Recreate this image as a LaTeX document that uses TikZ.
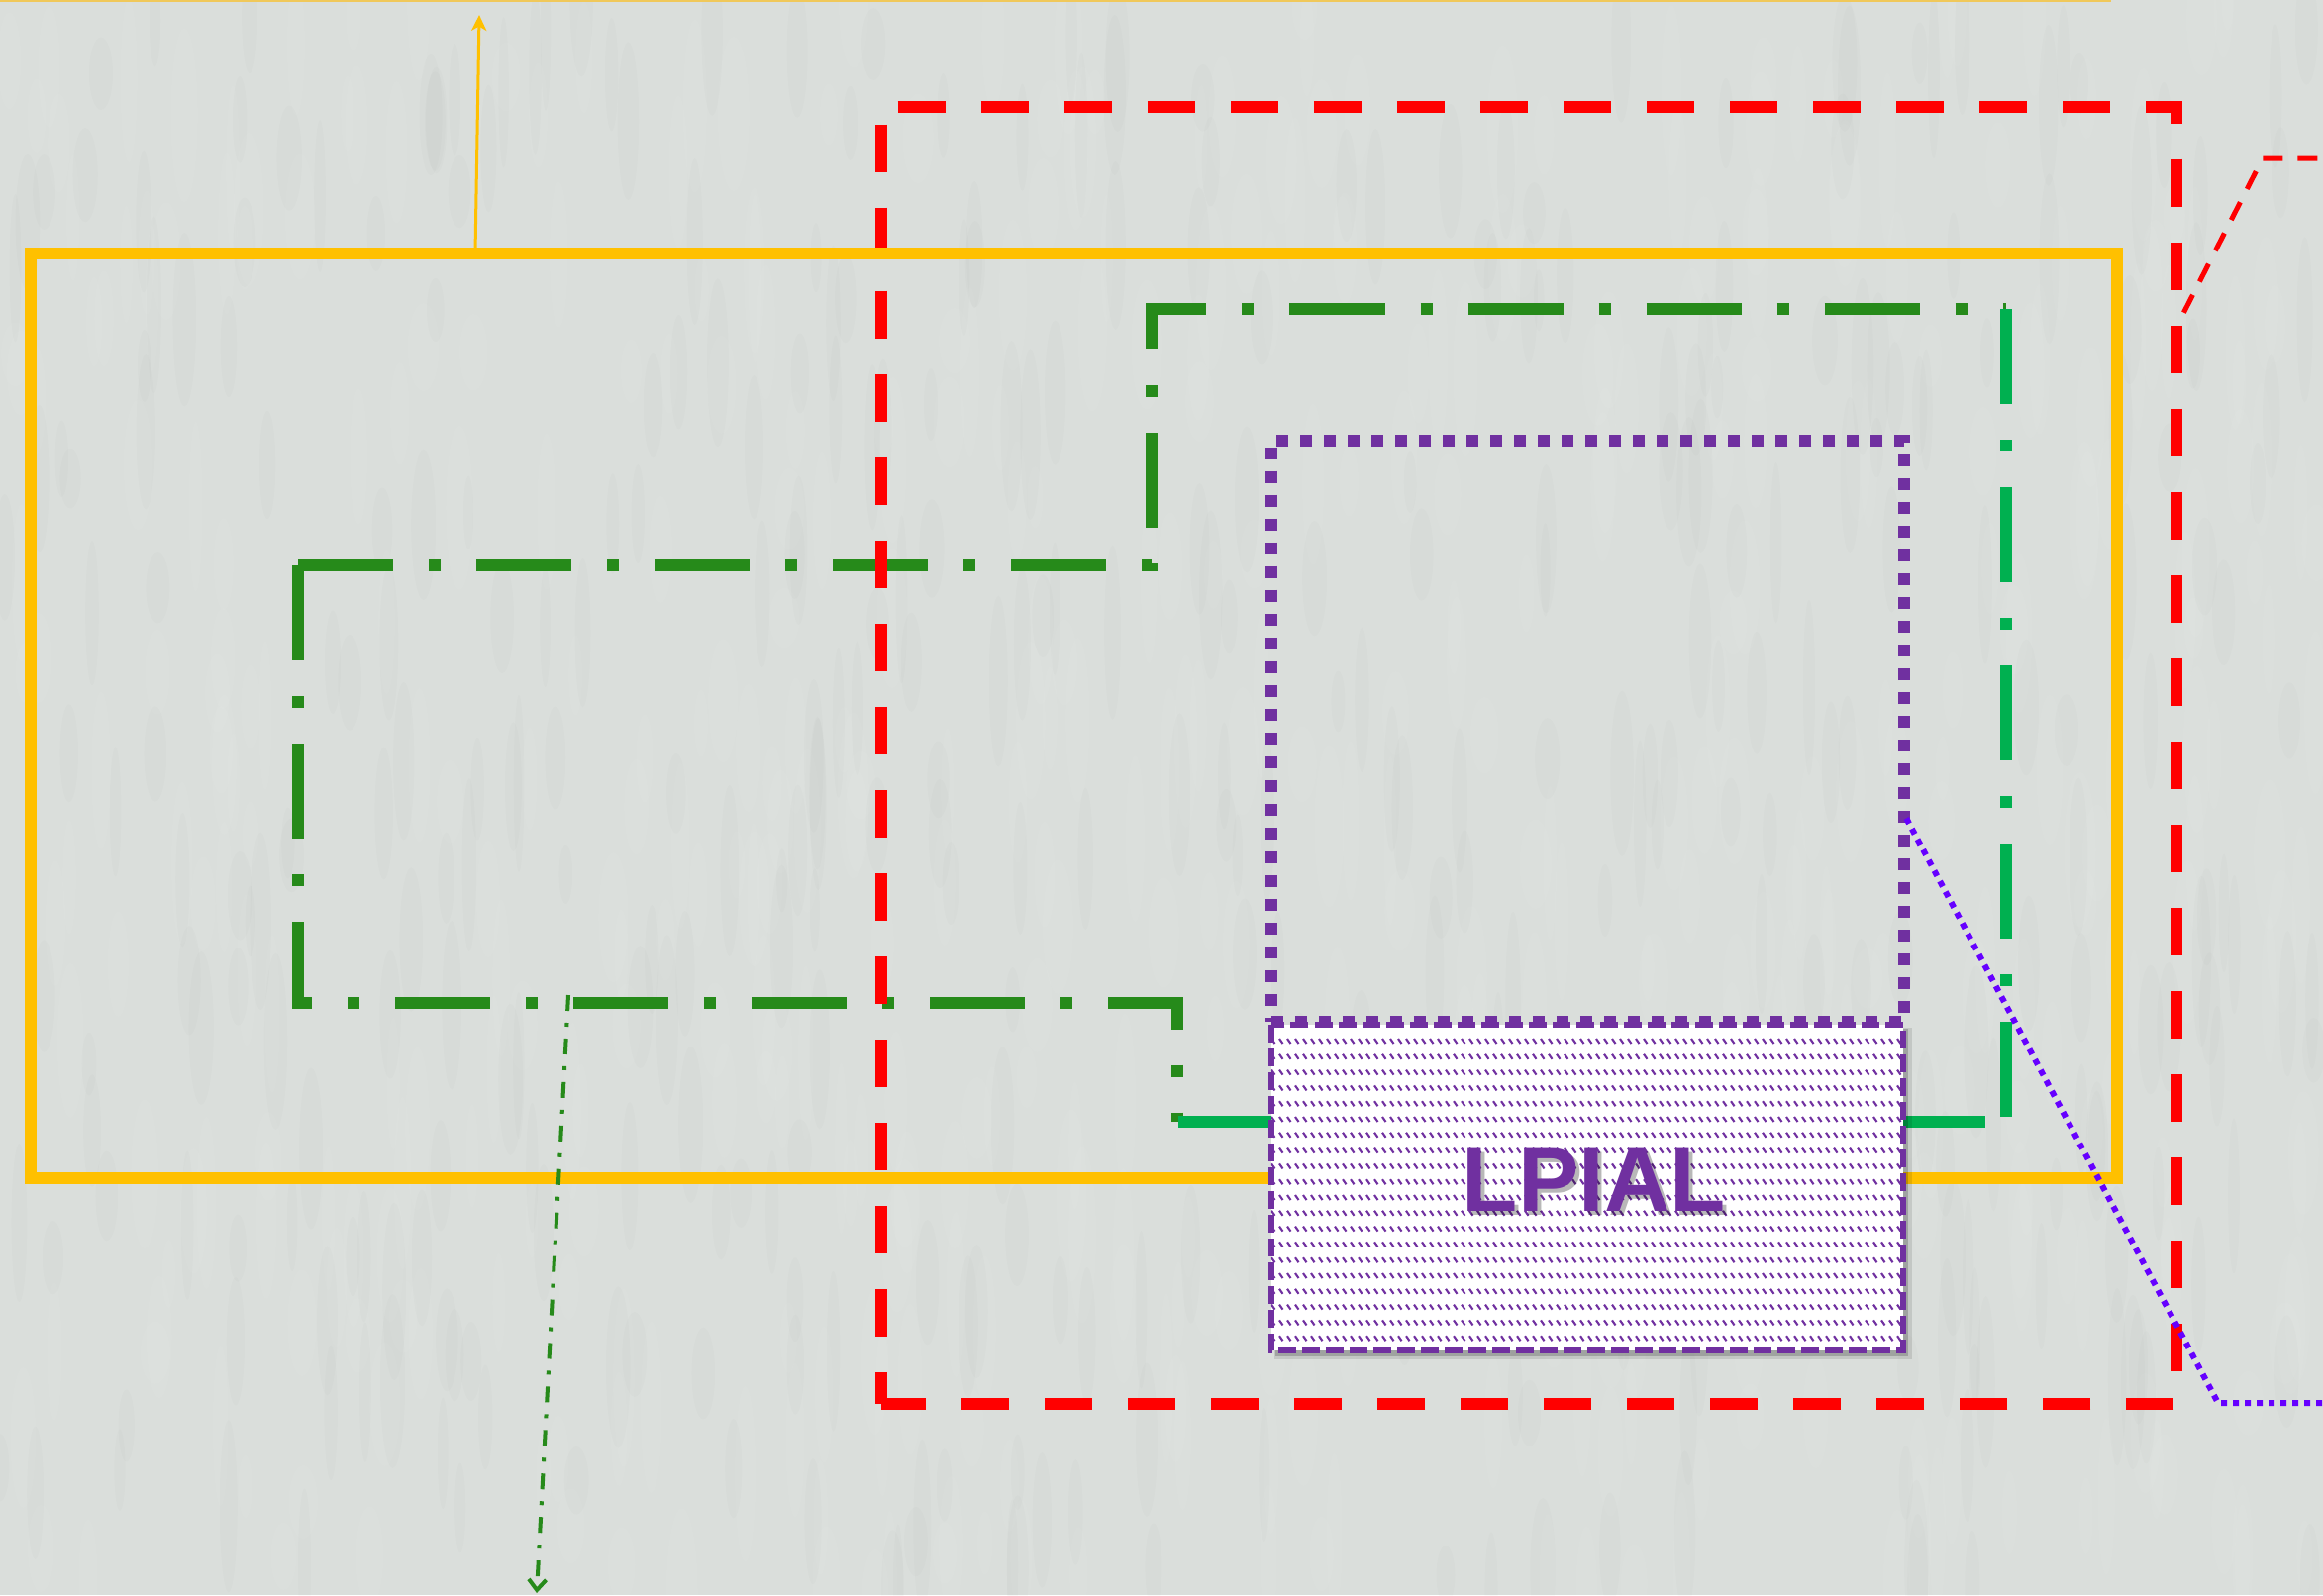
\documentclass[tikz,border=0pt]{standalone}
\usepackage{fontspec}
\newfontfamily\lpfont{Liberation Sans}
\usetikzlibrary{arrows.meta,calc}
\definecolor{bgpaper}{RGB}{218,222,219}
\definecolor{gold}{RGB}{255,192,0}
\definecolor{topgold}{RGB}{240,200,90}
\definecolor{redline}{RGB}{255,0,0}
\definecolor{dkgreen}{RGB}{38,138,26}
\definecolor{brgreen}{RGB}{0,176,80}
\definecolor{purp}{RGB}{112,48,160}
\definecolor{violetline}{RGB}{102,0,255}
\tikzset{
  box/.style={rectangle, inner sep=0pt, outer sep=0pt},
  lgdashdot/.style={dash pattern=on 27.31pt off 10.24pt on 3.414pt off 10.24pt},
  dkgline/.style={draw=dkgreen, line width=3.414pt, lgdashdot},
  brgline/.style={draw=brgreen, line width=3.414pt},
  redrect/.style={draw=redline, line width=3.414pt, dash pattern=on 13.66pt off 10.24pt},
  redthin/.style={draw=redline, line width=1.423pt, dash pattern=on 5.69pt off 4.27pt},
  purdot/.style={box, draw=purp, line width=3.414pt, dash pattern=on 3.414pt off 3.414pt},
  lpbox/.style={box, draw=purp, line width=1.707pt, dash pattern=on 5.12pt off 1.71pt},
  patline/.style={draw=purp, line width=0.6pt},
  violetdot/.style={draw=violetline, line width=1.707pt, dash pattern=on 1.707pt off 1.707pt},
  yelarrow/.style={draw=gold, line width=0.854pt, -{Stealth[length=4.5pt,width=4.3pt,inset=1.2pt]}},
  grnarrow/.style={draw=dkgreen, line width=1.138pt, dash pattern=on 4.55pt off 3.41pt on 1.14pt off 3.41pt, -{Straight Barb[length=3pt,width=5pt]}},
  lptext/.style={inner sep=0pt, anchor=base, font={\lpfont\bfseries\fontsize{26.2pt}{30pt}\selectfont}}
}
\begin{document}
\begin{tikzpicture}[x=0.01cm,y=-0.01cm]
\useasboundingbox (0,0) rectangle (2346,1611);
\fill[bgpaper] (0,0) rectangle (2346,1611);
% very soft paper texture
\pgfmathsetseed{4711}
\foreach \i in {1,...,500}{
  \pgfmathsetmacro{\tx}{rnd*2346}
  \pgfmathsetmacro{\ty}{rnd*1611}
  \pgfmathsetmacro{\tl}{30+rnd*60}
  \pgfmathsetmacro{\tw}{6+rnd*10}
  \fill[white, opacity=0.05] (\tx,\ty) ellipse [x radius={\tw*0.01cm}, y radius={\tl*0.01cm}];
}
\foreach \i in {1,...,400}{
  \pgfmathsetmacro{\tx}{rnd*2346}
  \pgfmathsetmacro{\ty}{rnd*1611}
  \pgfmathsetmacro{\tl}{30+rnd*60}
  \pgfmathsetmacro{\tw}{5+rnd*8}
  \fill[black, opacity=0.012] (\tx,\ty) ellipse [x radius={\tw*0.01cm}, y radius={\tl*0.01cm}];
}

% top thin yellow line
\coordinate (tl1) at (0,0);
\coordinate (tl2) at (2132,0);
\draw[topgold, line width=0.85pt] (tl1) -- (tl2);

% shape nodes
\node (yel) [box, minimum width=21.05cm, minimum height=9.34cm] at (1084.5,723) {};
\node (red) [box, minimum width=13.08cm, minimum height=13.10cm] at (1544,763) {};
\node (pur) [purdot, minimum width=6.39cm, minimum height=5.87cm] at (1603.5,738.5) {};

% dark green dash-dot outline (two paths from the same corner)
\coordinate (g0) at (301,571);
\coordinate (g1) at (1163,571);
\coordinate (g2) at (1163,312);
\coordinate (g3) at (2026,312);
\coordinate (g4) at (301,1013);
\coordinate (g5) at (1189,1013);
\coordinate (g6) at (1189,1133);
\draw[dkgline] (g0) -- (g1) -- (g2) -- (g3);
\draw[dkgline] (g0) -- (g4) -- (g5) -- (g6);

% bright green pieces
\coordinate (b1) at (2026,1133);
\coordinate (b2) at (1190,1133);
\coordinate (b3) at (2005,1133);
\draw[brgline, lgdashdot] (g3) -- (b1);
\draw[brgline] (b2) -- (b3);

% red dashed rectangle
\draw[redrect, dash phase=19.06pt] (red.north west) -- (red.north east) -- (red.south east) -- (red.south west);
\draw[redrect, dash phase=18.78pt] (red.north west) -- (red.south west);

% yellow rectangle (over red)
\draw[draw=gold, line width=3.414pt] (yel.north west) rectangle (yel.south east);

% yellow arrow up
\coordinate (yax) at (480,0);
\coordinate (yend) at (484,15);
\draw[yelarrow] (yel.north -| yax) -- (yend);

% green dash-dot arrow down
\coordinate (ga) at (574,1005);
\coordinate (gb) at (542,1609);
\draw[grnarrow] (ga) -- (gb);

% LPIAL box
\node (lpial) [box, minimum width=6.38cm, minimum height=3.29cm] at (1603,1199.5) {};
\fill[black, opacity=0.10] ($(lpial.north west)+(3,3)$) rectangle ($(lpial.south east)+(9,9)$);
\fill[black, opacity=0.18] ($(lpial.north west)+(4,4)$) rectangle ($(lpial.south east)+(5,6)$);
\fill[white] (lpial.north west) rectangle (lpial.south east);
\begin{scope}
  \clip (lpial.north west) rectangle (lpial.south east);
  \foreach \r in {0,...,20}{
    \draw[patline] \foreach \c in {0,...,80}{ ({1284+8*\c},{1049+15.8*\r}) -- ++(3.5,5) };
  }
\end{scope}
\draw[lpbox] (lpial.north west) rectangle (lpial.south east);
\node (lpshadow) [lptext, text=black, opacity=0.28] at (1614,1227) {LPIAL};
\node (lptxt) [lptext, text=purp] at (1610,1223) {LPIAL};

% red thin dashed connector
\coordinate (r2) at (2285,160);
\coordinate (r3) at (2350,160);
\draw[redthin] ($(red.north east)+(7,208)$) -- (r2) -- (r3);

% violet dotted connector
\coordinate (v2) at (2240,1417);
\coordinate (v3) at (2350,1417);
\draw[violetdot] ($(pur.east)+(2,88)$) -- (v2) -- (v3);
\end{tikzpicture}
\end{document}
